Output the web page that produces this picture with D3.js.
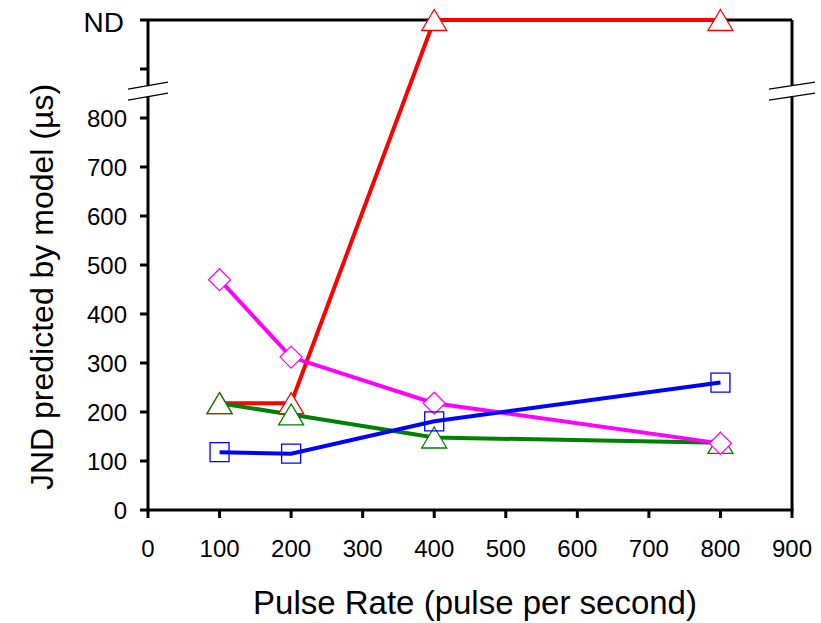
<!DOCTYPE html>
<html>
<head>
<meta charset="utf-8">
<script src="https://cdn.jsdelivr.net/npm/d3@7"></script>
<style>
  body { margin: 0; background: #fff; }
  svg { font-family: "Liberation Sans", Arial, sans-serif; }
</style>
</head>
<body>
<div id="chart"></div>
<script>
// pulse rates (x) and model JND values; ND drawn at the top row
const RATES = [100, 200, 400, 800]
const ND = 1000
const RED = [218, 218, ND, ND]
const GREEN = [218, 195, 148, 137]
const MAGENTA = [470, 312, 218, 136]
const BLUE = [118, 115, 181, 260]
const X_TICKS = [0, 100, 200, 300, 400, 500, 600, 700, 800, 900]
const Y_TICKS = [0, 100, 200, 300, 400, 500, 600, 700, 800]

const width = 821, height = 623
const margin = { top: 20, right: 29, bottom: 113, left: 148 }

const svg = d3.select('#chart').append('svg')
  .attr('width', width).attr('height', height)

const x = d3.scaleLinear().domain([0, 900]).range([margin.left, width - margin.right])
const y = d3.scaleLinear().domain([0, ND]).range([height - margin.bottom, margin.top])

const x0 = x(0), x1 = x(900), y0 = y(0), yTop = y(ND)
const breakY = y(855)

// frame: top border, right border, left axis, bottom axis (with break gaps)
const frame = svg.append('g').attr('stroke', '#000').attr('stroke-width', 3).attr('fill', 'none')
frame.append('line').attr('x1', x0).attr('x2', x1).attr('y1', yTop).attr('y2', yTop)
frame.append('line').attr('x1', x1).attr('x2', x1).attr('y1', yTop).attr('y2', breakY - 6)
frame.append('line').attr('x1', x1).attr('x2', x1).attr('y1', breakY + 5).attr('y2', y0)
frame.append('line').attr('x1', x0).attr('x2', x0).attr('y1', yTop).attr('y2', breakY - 6)
frame.append('line').attr('x1', x0).attr('x2', x0).attr('y1', breakY + 5).attr('y2', y0)
frame.append('line').attr('x1', x0 - 1.5).attr('x2', x1 + 1.5).attr('y1', y0).attr('y2', y0)

// y ticks
const ticksY = svg.append('g')
ticksY.selectAll('line').data(Y_TICKS.concat([900, ND])).join('line')
  .attr('x1', x0 - 8).attr('x2', x0)
  .attr('y1', d => y(d)).attr('y2', d => y(d))
  .attr('stroke', '#000').attr('stroke-width', 3)
ticksY.selectAll('text').data(Y_TICKS).join('text')
  .attr('x', x0 - 21).attr('y', d => y(d)).attr('dy', '0.36em')
  .attr('text-anchor', 'end').attr('font-size', 24).text(d => d)
svg.append('text').attr('x', x0 - 24).attr('y', yTop + 2).attr('dy', '0.36em')
  .attr('text-anchor', 'end').attr('font-size', 28).text('ND')

// x ticks
const ticksX = svg.append('g')
ticksX.selectAll('line').data(X_TICKS).join('line')
  .attr('x1', d => x(d)).attr('x2', d => x(d))
  .attr('y1', y0).attr('y2', y0 + 8)
  .attr('stroke', '#000').attr('stroke-width', 3)
ticksX.selectAll('text').data(X_TICKS).join('text')
  .attr('x', d => x(d)).attr('y', y0 + 47)
  .attr('text-anchor', 'middle').attr('font-size', 24).text(d => d)

// axis break marks
const breaks = svg.append('g').attr('stroke', '#000').attr('stroke-width', 1.3)
;[[x0, 20], [x1, 23]].forEach(([bx, half]) => {
  [-5.5, 5.5].forEach(off => {
    breaks.append('line')
      .attr('x1', bx - half).attr('y1', breakY + off + 3.5)
      .attr('x2', bx + half).attr('y2', breakY + off - 3.5)
  })
})

// titles
svg.append('text').attr('x', 475).attr('y', 614)
  .attr('text-anchor', 'middle').attr('font-size', 33).text('Pulse Rate (pulse per second)')
svg.append('text')
  .attr('transform', 'translate(53,287) rotate(-90)')
  .attr('text-anchor', 'middle').attr('font-size', 32).text('JND predicted by model (µs)')

const series = [
  { vals: RED, color: '#ff0000', shape: 'tri' },
  { vals: GREEN, color: '#008000', shape: 'tri' },
  { vals: MAGENTA, color: '#ff00ff', shape: 'dia' },
  { vals: BLUE, color: '#0000ff', shape: 'sq' }
]

const line = d3.line().x(d => x(d[0])).y(d => y(d[1]))

series.forEach(s => {
  svg.append('path')
    .datum(RATES.map((r, i) => [r, s.vals[i]]))
    .attr('d', line).attr('fill', 'none')
    .attr('stroke', s.color).attr('stroke-width', 4)
})

const shapes = {
  tri: 'M0,-10.5L12.5,10.5L-12.5,10.5Z',
  dia: 'M0,-11L11,0L0,11L-11,0Z',
  sq: 'M-9.5,-9.5H9.5V9.5H-9.5Z'
}

series.forEach(s => {
  svg.append('g').selectAll('path')
    .data(RATES.map((r, i) => [r, s.vals[i]]))
    .join('path')
    .attr('transform', d => `translate(${x(d[0])},${y(d[1])})`)
    .attr('d', shapes[s.shape])
    .attr('fill', s.shape === 'sq' ? 'none' : '#fff')
    .attr('stroke', s.color).attr('stroke-width', 1.3)
})
</script>
</body>
</html>
